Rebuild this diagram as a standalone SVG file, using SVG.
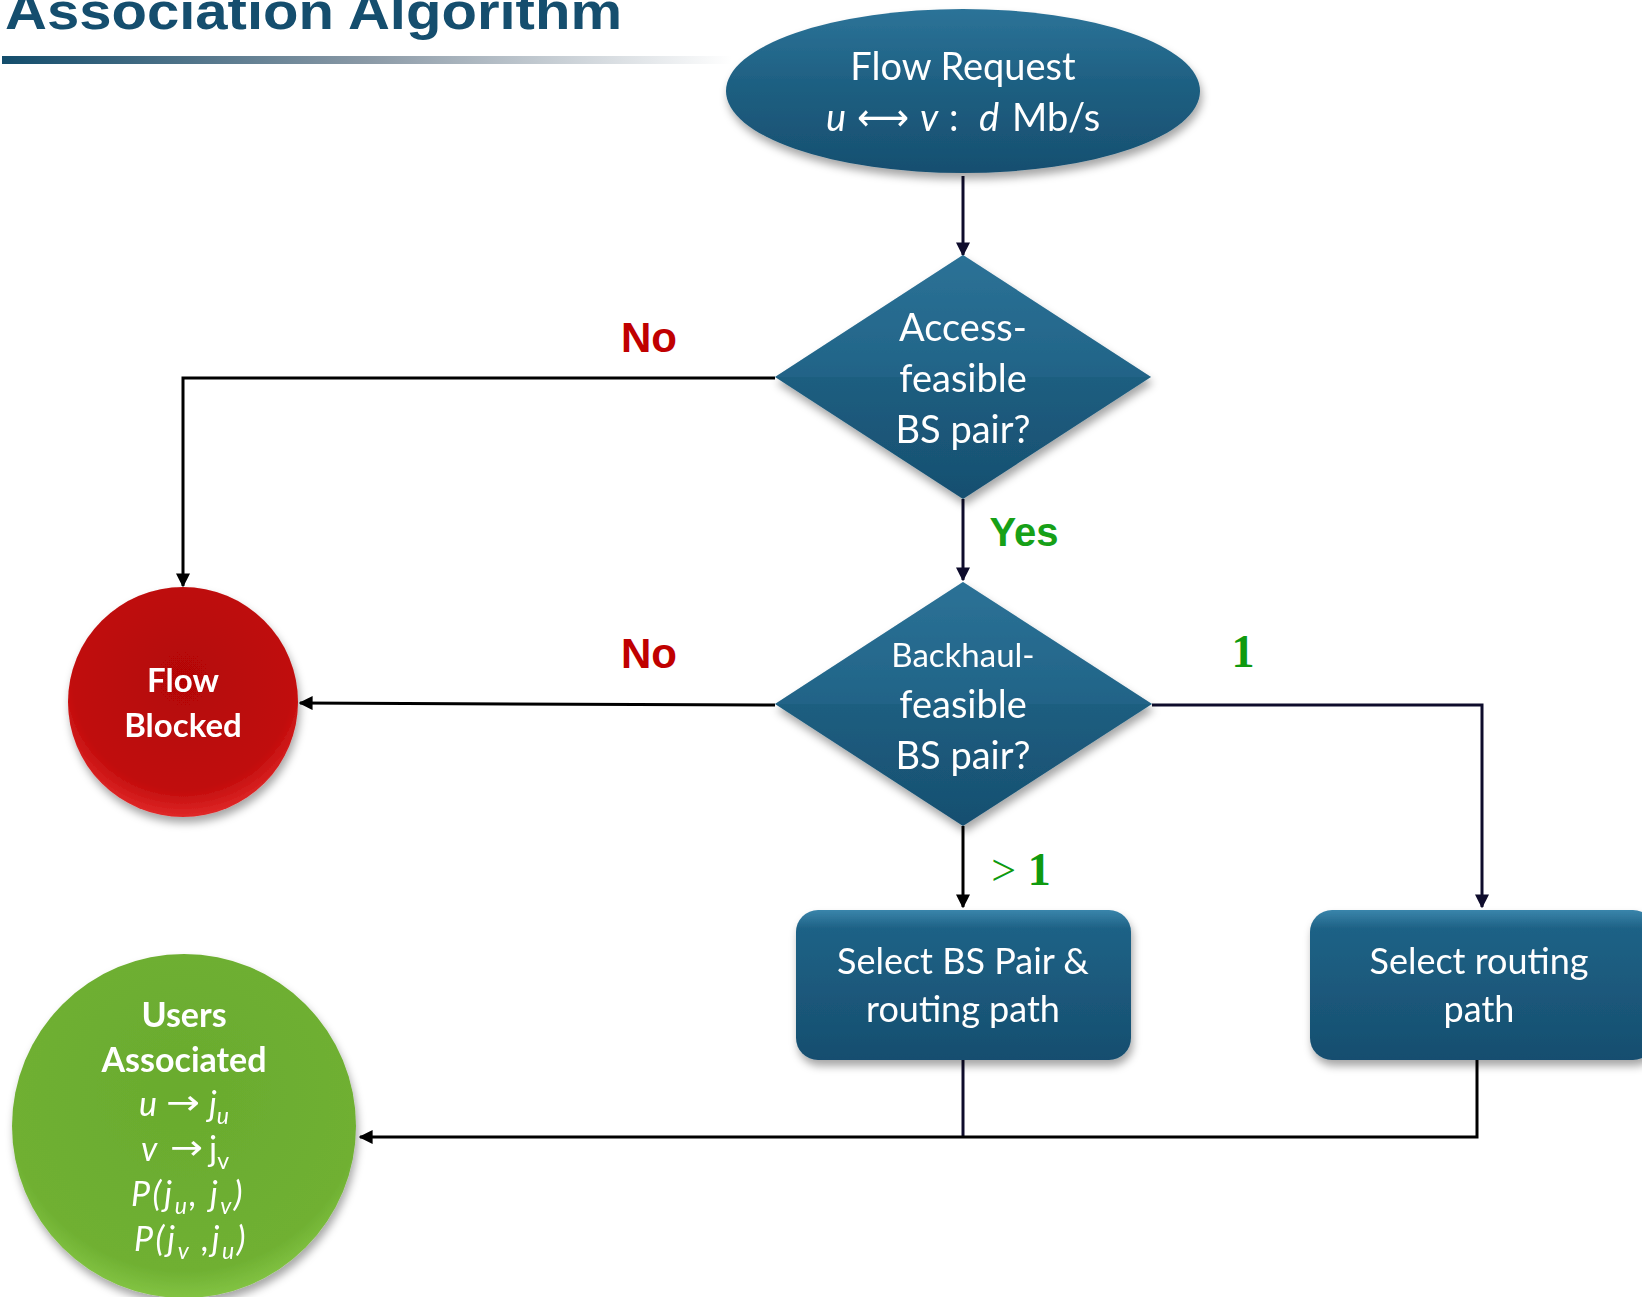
<svg xmlns="http://www.w3.org/2000/svg" width="1642" height="1297" viewBox="0 0 1642 1297">
<defs>
  <linearGradient id="bar" x1="0" y1="0" x2="1" y2="0">
    <stop offset="0" stop-color="#134d6c"/>
    <stop offset="0.5" stop-color="#8a99a6"/>
    <stop offset="1" stop-color="#ffffff"/>
  </linearGradient>
  <linearGradient id="blue" x1="0" y1="0" x2="0" y2="1">
    <stop offset="0" stop-color="#2c7398"/>
    <stop offset="0.5" stop-color="#1d5e80"/>
    <stop offset="1" stop-color="#174f70"/>
  </linearGradient>
  <linearGradient id="blueBox" x1="0" y1="0" x2="0" y2="1">
    <stop offset="0" stop-color="#3a85ab"/>
    <stop offset="0.12" stop-color="#1f6286"/>
    <stop offset="1" stop-color="#164e6f"/>
  </linearGradient>
  <radialGradient id="red" cx="0.5" cy="0.4" r="0.6">
    <stop offset="0" stop-color="#b40606"/>
    <stop offset="0.8" stop-color="#c00a0a"/>
    <stop offset="1" stop-color="#e02828"/>
  </radialGradient>
  <radialGradient id="green" cx="0.5" cy="0.4" r="0.65">
    <stop offset="0" stop-color="#6aab2e"/>
    <stop offset="0.8" stop-color="#6fb032"/>
    <stop offset="1" stop-color="#8fd04e"/>
  </radialGradient>
  <filter id="shadow" x="-10%" y="-10%" width="125%" height="130%">
    <feDropShadow dx="2" dy="6" stdDeviation="4" flood-color="#000" flood-opacity="0.35"/>
  </filter>
  <marker id="arrow" viewBox="0 0 10 10" refX="9" refY="5" markerWidth="14" markerHeight="14" markerUnits="userSpaceOnUse" orient="auto">
    <path d="M0,0 L10,5 L0,10 z" fill="#000"/>
  </marker>
  <marker id="arrowNavy" viewBox="0 0 10 10" refX="9" refY="5" markerWidth="14" markerHeight="14" markerUnits="userSpaceOnUse" orient="auto">
    <path d="M0,0 L10,5 L0,10 z" fill="#0e0c2c"/>
  </marker>
  <style>
    .node-text { font-family: "Lato", "Open Sans", "Liberation Sans", sans-serif; fill: #ffffff; text-anchor: middle; }
    .st { text-anchor: start; }
    .sym { font-family: "DejaVu Sans", sans-serif; font-style: normal; }
    .bold { font-weight: bold; }
    .it { font-style: italic; }
    .conn { fill: none; stroke: #000; stroke-width: 3; }
    .conn-navy { fill: none; stroke: #0e0c2c; stroke-width: 3; }
    .lbl-red { font-family: "Liberation Sans", Arial, sans-serif; font-weight: bold; fill: #c00000; font-size: 42px; text-anchor: middle; }
    .lbl-green { font-family: "Liberation Sans", Arial, sans-serif; font-weight: bold; fill: #17a017; font-size: 40px; text-anchor: middle; }
    .lbl-num { font-family: "Liberation Serif", "Times New Roman", serif; font-weight: bold; fill: #0f9a0f; font-size: 46px; text-anchor: middle; }
  </style>
</defs>
<rect width="1642" height="1297" fill="#ffffff"/>

<g id="title">
  <text x="5" y="29" font-family="Liberation Sans, Arial, sans-serif" font-weight="bold" font-size="52" fill="#154e6e" textLength="617" lengthAdjust="spacingAndGlyphs">Association Algorithm</text>
  <rect x="2" y="56" width="730" height="8" fill="url(#bar)"/>
</g>

<g id="connectors">
  <line class="conn-navy" x1="963" y1="176" x2="963" y2="255" marker-end="url(#arrowNavy)"/>
  <polyline class="conn" points="775,378 183,378 183,586" marker-end="url(#arrow)"/>
  <line class="conn-navy" x1="963" y1="499" x2="963" y2="580" marker-end="url(#arrowNavy)"/>
  <line class="conn" x1="775" y1="705" x2="300" y2="703" marker-end="url(#arrow)"/>
  <polyline class="conn-navy" points="1152,705 1482,705 1482,907" marker-end="url(#arrowNavy)"/>
  <line class="conn" x1="963" y1="826" x2="963" y2="907" marker-end="url(#arrow)"/>
  <line class="conn-navy" x1="963" y1="1060" x2="963" y2="1137"/>
  <polyline class="conn" points="1477,1060 1477,1137 360,1137" marker-end="url(#arrow)"/>
</g>

<g id="labels">
  <text class="lbl-red" x="649" y="352">No</text>
  <text class="lbl-red" x="649" y="668">No</text>
  <text class="lbl-green" x="1024" y="546">Yes</text>
  <text class="lbl-num" x="1243" y="667">1</text>
  <text class="lbl-num" x="1021" y="885"><tspan font-weight="normal" font-size="44">&gt;</tspan> 1</text>
</g>

<g id="flow-request" filter="url(#shadow)">
  <ellipse cx="963" cy="91" rx="237" ry="82" fill="url(#blue)"/>
  <text class="node-text" font-size="38" x="963" y="80">Flow Request</text>
  <text class="node-text st it" font-size="38" x="826" y="131">u</text>
  <text class="node-text st sym" font-size="38" x="857" y="130" textLength="52" lengthAdjust="spacingAndGlyphs">⟷</text>
  <text class="node-text st it" font-size="38" x="920" y="131">v</text>
  <text class="node-text st" font-size="38" x="949" y="131">:</text>
  <text class="node-text st it" font-size="38" x="979" y="131">d</text>
  <text class="node-text st" font-size="38" x="1012" y="131">Mb/s</text>
</g>

<g id="access-feasible" filter="url(#shadow)">
  <polygon points="963,255 1151,377 963,499 775,377" fill="url(#blue)"/>
  <polygon points="963,255 1151,377 963,377 775,377" fill="#2b7196" opacity="0.35"/>
  <text class="node-text" font-size="38" x="963" y="341">Access-</text>
  <text class="node-text" font-size="38" x="963" y="392">feasible</text>
  <text class="node-text" font-size="38" x="963" y="443">BS pair?</text>
</g>

<g id="backhaul-feasible" filter="url(#shadow)">
  <polygon points="963,582 1152,704 963,826 775,704" fill="url(#blue)"/>
  <polygon points="963,582 1152,704 963,704 775,704" fill="#2b7196" opacity="0.35"/>
  <text class="node-text" font-size="33" x="963" y="667">Backhaul-</text>
  <text class="node-text" font-size="38" x="963" y="718">feasible</text>
  <text class="node-text" font-size="38" x="963" y="769">BS pair?</text>
</g>

<g id="flow-blocked" filter="url(#shadow)">
  <circle cx="183" cy="702" r="115" fill="url(#red)"/>
  <text class="node-text bold" font-size="33" x="183" y="692">Flow</text>
  <text class="node-text bold" font-size="33" x="183" y="737">Blocked</text>
</g>

<g id="select-bs-pair" filter="url(#shadow)">
  <rect x="796" y="910" width="335" height="150" rx="22" fill="url(#blueBox)"/>
  <text class="node-text" font-size="36" x="963" y="974">Select BS Pair &amp;</text>
  <text class="node-text" font-size="36" x="963" y="1022">routing path</text>
</g>

<g id="select-routing" filter="url(#shadow)">
  <rect x="1310" y="910" width="345" height="150" rx="22" fill="url(#blueBox)"/>
  <text class="node-text" font-size="36" x="1479" y="974">Select routing</text>
  <text class="node-text" font-size="36" x="1479" y="1022">path</text>
</g>

<g id="users-associated" filter="url(#shadow)">
  <circle cx="184" cy="1126" r="172" fill="url(#green)"/>
  <text class="node-text bold" font-size="34" x="184" y="1027">Users</text>
  <text class="node-text bold" font-size="34" x="184" y="1072">Associated</text>
  <text class="node-text st it" font-size="34" x="139" y="1116">u</text>
  <text class="node-text st sym" font-size="34" x="166" y="1114" textLength="34" lengthAdjust="spacingAndGlyphs">→</text>
  <text class="node-text st it" font-size="34" x="209" y="1116">j<tspan font-size="23" dy="8">u</tspan></text>
  <text class="node-text st it" font-size="34" x="141" y="1161">v</text>
  <text class="node-text st sym" font-size="34" x="170" y="1159" textLength="33" lengthAdjust="spacingAndGlyphs">→</text>
  <text class="node-text st" font-size="34" x="209" y="1161">j<tspan font-size="23" dy="8">v</tspan></text>
  <text class="node-text st it" font-size="34" x="131" y="1206" letter-spacing="2.5">P(j<tspan font-size="23" dy="8">u</tspan><tspan dy="-8">, j</tspan><tspan font-size="23" dy="8">v</tspan><tspan dy="-8">)</tspan></text>
  <text class="node-text st it" font-size="34" x="134" y="1251" letter-spacing="2.5">P(j<tspan font-size="23" dy="8">v</tspan><tspan dy="-8"> ,j</tspan><tspan font-size="23" dy="8">u</tspan><tspan dy="-8">)</tspan></text>
</g>
</svg>
